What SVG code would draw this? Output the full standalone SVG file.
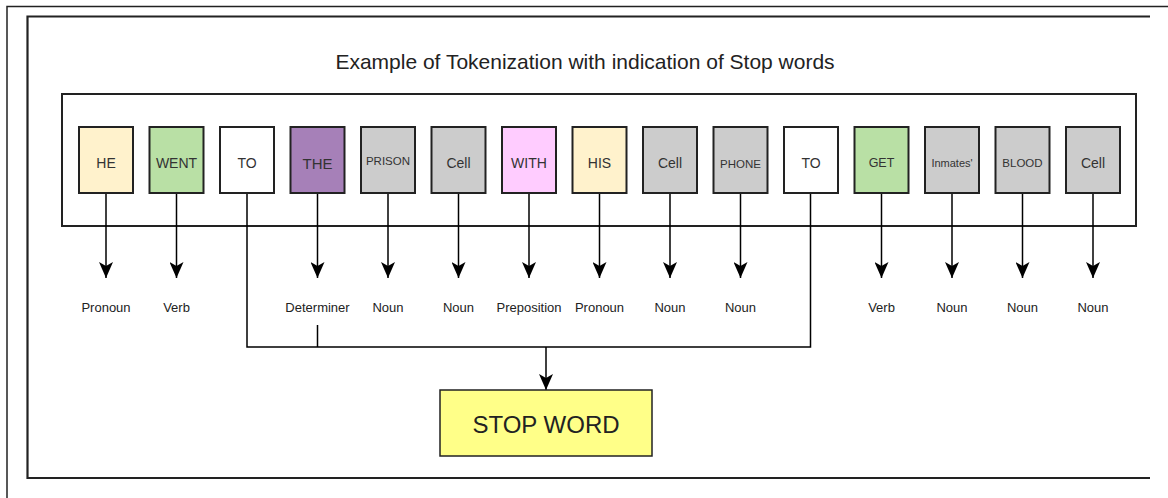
<svg xmlns="http://www.w3.org/2000/svg" width="1168" height="498" viewBox="0 0 1168 498">
<defs>
<marker id="ah" viewBox="0 0 16 14" refX="16" refY="7" markerWidth="16" markerHeight="14" markerUnits="userSpaceOnUse" orient="auto">
<path d="M0,0 L4,7 L0,14 L16,7 Z" fill="#000"/>
</marker>
</defs>
<style>
.tok{stroke:#222;stroke-width:2}
.tt{font-family:"Liberation Sans",Arial,sans-serif;fill:#333;text-anchor:middle;dominant-baseline:central}
.lbl{font-family:"Liberation Sans",Arial,sans-serif;font-size:13px;fill:#222;text-anchor:middle}
.ln{stroke:#000;stroke-width:1.5;fill:none}
.frame{stroke:#222;fill:none}
</style>
<rect width="1168" height="498" fill="#fff"/>
<g id="frame">
<path class="frame" d="M7,498 V6.5 H1168" stroke-width="1.5"/>
<path class="frame" d="M1150,16.5 H27.5 V478 H1150" stroke-width="2.2"/>
</g>
<text id="title" x="585" y="69" font-family="Liberation Sans,Arial,sans-serif" font-size="21" fill="#222" text-anchor="middle">Example of Tokenization with indication of Stop words</text>
<g id="container"><rect x="62" y="94" width="1074" height="132" fill="none" stroke="#222" stroke-width="2"/></g>
<g id="connectors">
<path class="ln" d="M106,193 V278" marker-end="url(#ah)"/>
<path class="ln" d="M176.5,193 V278" marker-end="url(#ah)"/>
<path class="ln" d="M317.5,193 V278" marker-end="url(#ah)"/>
<path class="ln" d="M388,193 V278" marker-end="url(#ah)"/>
<path class="ln" d="M458.5,193 V278" marker-end="url(#ah)"/>
<path class="ln" d="M529,193 V278" marker-end="url(#ah)"/>
<path class="ln" d="M599.5,193 V278" marker-end="url(#ah)"/>
<path class="ln" d="M670,193 V278" marker-end="url(#ah)"/>
<path class="ln" d="M740.5,193 V278" marker-end="url(#ah)"/>
<path class="ln" d="M881.5,193 V278" marker-end="url(#ah)"/>
<path class="ln" d="M952,193 V278" marker-end="url(#ah)"/>
<path class="ln" d="M1022.5,193 V278" marker-end="url(#ah)"/>
<path class="ln" d="M1093,193 V278" marker-end="url(#ah)"/>
<path class="ln" d="M247,193 V347 H810.5 V193"/>
<path class="ln" d="M317.5,325 V347"/>
<path class="ln" d="M546,347 V390" marker-end="url(#ah)"/>
</g>
<g id="tokens">
<g id="t1"><rect class="tok" x="79" y="127" width="54" height="66" fill="#FFF2CC"/><text class="tt" x="106" y="163" font-size="14">HE</text></g>
<g id="t2"><rect class="tok" x="149.5" y="127" width="54" height="66" fill="#B9E0A5"/><text class="tt" x="176.5" y="163" font-size="14">WENT</text></g>
<g id="t3"><rect class="tok" x="220" y="127" width="54" height="66" fill="#FFFFFF"/><text class="tt" x="247" y="163" font-size="14">TO</text></g>
<g id="t4"><rect class="tok" x="290.5" y="127" width="54" height="66" fill="#A680B8"/><text class="tt" x="317.5" y="163" font-size="15">THE</text></g>
<g id="t5"><rect class="tok" x="361" y="127" width="54" height="66" fill="#CCCCCC"/><text class="tt" x="388" y="161" font-size="11.5">PRISON</text></g>
<g id="t6"><rect class="tok" x="431.5" y="127" width="54" height="66" fill="#CCCCCC"/><text class="tt" x="458.5" y="163" font-size="14">Cell</text></g>
<g id="t7"><rect class="tok" x="502" y="127" width="54" height="66" fill="#FFCCFF"/><text class="tt" x="529" y="163" font-size="14">WITH</text></g>
<g id="t8"><rect class="tok" x="572.5" y="127" width="54" height="66" fill="#FFF2CC"/><text class="tt" x="599.5" y="163" font-size="14">HIS</text></g>
<g id="t9"><rect class="tok" x="643" y="127" width="54" height="66" fill="#CCCCCC"/><text class="tt" x="670" y="163" font-size="14">Cell</text></g>
<g id="t10"><rect class="tok" x="713.5" y="127" width="54" height="66" fill="#CCCCCC"/><text class="tt" x="740.5" y="164" font-size="11.5">PHONE</text></g>
<g id="t11"><rect class="tok" x="784" y="127" width="54" height="66" fill="#FFFFFF"/><text class="tt" x="811" y="163" font-size="14">TO</text></g>
<g id="t12"><rect class="tok" x="854.5" y="127" width="54" height="66" fill="#B9E0A5"/><text class="tt" x="881.5" y="163" font-size="12.5">GET</text></g>
<g id="t13"><rect class="tok" x="925" y="127" width="54" height="66" fill="#CCCCCC"/><text class="tt" x="952" y="163" font-size="11">Inmates'</text></g>
<g id="t14"><rect class="tok" x="995.5" y="127" width="54" height="66" fill="#CCCCCC"/><text class="tt" x="1022.5" y="163" font-size="11.5">BLOOD</text></g>
<g id="t15"><rect class="tok" x="1066" y="127" width="54" height="66" fill="#CCCCCC"/><text class="tt" x="1093" y="163" font-size="14">Cell</text></g>
</g>
<g id="labels">
<text class="lbl" x="106" y="312">Pronoun</text>
<text class="lbl" x="176.5" y="312">Verb</text>
<text class="lbl" x="317.5" y="312">Determiner</text>
<text class="lbl" x="388" y="312">Noun</text>
<text class="lbl" x="458.5" y="312">Noun</text>
<text class="lbl" x="529" y="312">Preposition</text>
<text class="lbl" x="599.5" y="312">Pronoun</text>
<text class="lbl" x="670" y="312">Noun</text>
<text class="lbl" x="740.5" y="312">Noun</text>
<text class="lbl" x="881.5" y="312">Verb</text>
<text class="lbl" x="952" y="312">Noun</text>
<text class="lbl" x="1022.5" y="312">Noun</text>
<text class="lbl" x="1093" y="312">Noun</text>
</g>
<g id="stopword"><rect x="440" y="390" width="212" height="66" fill="#FFFF88" stroke="#222" stroke-width="1.5"/><text x="546" y="424" font-family="Liberation Sans,Arial,sans-serif" font-size="24" fill="#222" text-anchor="middle" dominant-baseline="central">STOP WORD</text></g>
</svg>
